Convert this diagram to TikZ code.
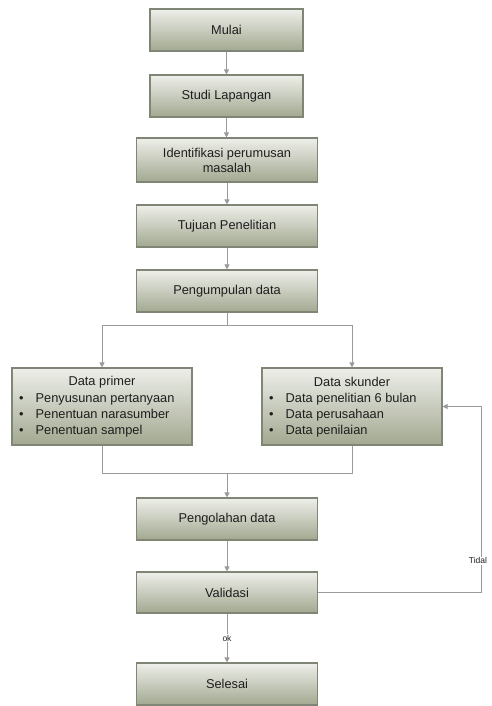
\documentclass[tikz,border=0pt]{standalone}
\usepackage{fontspec}
\setmainfont{Liberation Sans}
\usetikzlibrary{arrows.meta}
\definecolor{boxtop}{HTML}{EEEFEA}
\definecolor{boxbot}{HTML}{A2A890}
\definecolor{boxline}{HTML}{808676}
\definecolor{wire}{HTML}{9A9A9A}
\definecolor{ink}{HTML}{1E1E1E}
\begin{document}
\begin{tikzpicture}[x=1pt,y=-1pt,
  stepbox/.style={draw=boxline, line width=1.1pt, top color=boxtop, bottom color=boxbot,
    minimum height=42pt, inner sep=2pt, align=center, text=ink,
    font=\fontsize{12.8}{15}\selectfont},
  wide/.style={minimum width=181pt},
  narrow/.style={minimum width=153pt},
  listbox/.style={stepbox, minimum width=180pt, minimum height=77pt},
  listtxt/.style={text=ink, inner sep=0pt, font=\fontsize{12.8}{15}\selectfont},
  wire/.style={draw=wire, line width=0.9pt},
  arr/.style={wire, -{Triangle[length=5pt,width=5pt]}},
  tag/.style={fill=white, inner sep=1pt, text=ink, font=\fontsize{8.5}{10}\selectfont}]
\useasboundingbox (0,0) rectangle (491,706);

% main column
\node[stepbox, narrow] (mul) at (226.5,30) {Mulai};
\node[stepbox, narrow] (stu) at (226.5,96) {Studi Lapangan};
\node[stepbox, wide, minimum height=44pt] (idf) at (227,160) {Identifikasi perumusan\\masalah};
\node[stepbox, wide] (tuj) at (227,226) {Tujuan Penelitian};
\node[stepbox, wide] (pk) at (227,291) {Pengumpulan data};

% data sources
\node[listbox] (dp) at (102,406.5) {};
\node[listbox] (dsk) at (352,406.5) {};
\node[listtxt] (dpt) at (102,382) {Data primer};
\node[listtxt, anchor=base west] (dp1) at (19,402) {\textbullet\hspace{12pt}Penyusunan pertanyaan};
\node[listtxt, anchor=base west] (dp2) at (19,418) {\textbullet\hspace{12pt}Penentuan narasumber};
\node[listtxt, anchor=base west] (dp3) at (19,434) {\textbullet\hspace{12pt}Penentuan sampel};
\node[listtxt] (dst) at (352,382) {Data skunder};
\node[listtxt, anchor=base west] (ds1) at (269,402) {\textbullet\hspace{12pt}Data penelitian 6 bulan};
\node[listtxt, anchor=base west] (ds2) at (269,418) {\textbullet\hspace{12pt}Data perusahaan};
\node[listtxt, anchor=base west] (ds3) at (269,434) {\textbullet\hspace{12pt}Data penilaian};

% processing and end
\node[stepbox, wide] (po) at (227,519) {Pengolahan data};
\node[stepbox, wide, minimum height=41pt] (val) at (227,592.5) {Validasi};
\node[stepbox, wide] (sel) at (227,684) {Selesai};

% helper points
\coordinate (sp) at (227,325);
\coordinate (mg) at (227,473);
\coordinate (fbx) at (481,0);

% connectors
\draw[arr] (mul) -- (stu);
\draw[arr] (stu.south) -- (stu.south |- idf.north);
\draw[arr] (idf) -- (tuj);
\draw[arr] (tuj) -- (pk);
\draw[wire] (pk.south) -- (sp);
\draw[arr] (sp) -| (dp.north);
\draw[arr] (sp) -| (dsk.north);
\draw[wire] (dp.south) |- (mg);
\draw[wire] (dsk.south) |- (mg);
\draw[arr] (mg) -- (po.north);
\draw[arr] (po) -- (val);
\draw[arr] (val) -- node[tag] (ok) {ok} (sel);
\draw[arr] (val.east) -- (val.east -| fbx) -- node[tag, pos=0.17, xshift=-3pt] (td) {Tidal} (dsk.east -| fbx) -- (dsk.east);
\end{tikzpicture}
\end{document}
